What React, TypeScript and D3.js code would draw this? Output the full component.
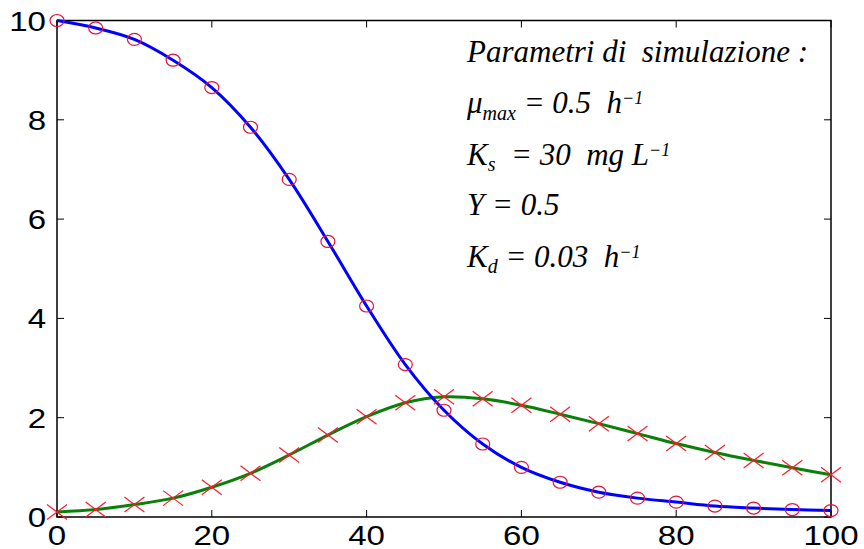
import React from "react";
import * as d3 from "d3";

const timeX: number[] = [0, 5, 10, 15, 20, 25, 30, 35, 40, 45, 50, 55, 60, 65, 70, 75, 80, 85, 90, 95, 100];
const substrate: number[] = [10.0, 9.85, 9.62, 9.2, 8.65, 7.85, 6.8, 5.55, 4.25, 3.07, 2.15, 1.47, 1.0, 0.7, 0.5, 0.38, 0.3, 0.22, 0.18, 0.15, 0.13];
const biomass: number[] = [0.1, 0.15, 0.25, 0.38, 0.6, 0.88, 1.25, 1.65, 2.02, 2.3, 2.42, 2.38, 2.25, 2.07, 1.88, 1.68, 1.48, 1.3, 1.14, 0.99, 0.85];
const xTicks: number[] = [0, 20, 40, 60, 80, 100];
const yTicks: number[] = [0, 2, 4, 6, 8, 10];

const W = 864, H = 549;
const L = 57, R = 831, T = 20.5, B = 517;

export default function App() {
  const x = d3.scaleLinear().domain([0, 100]).range([L, R]);
  const y = d3.scaleLinear().domain([0, 10]).range([B, T]);
  const line = d3.line<[number, number]>().x(d => x(d[0])).y(d => y(d[1])).curve(d3.curveCatmullRom);
  const sPts = timeX.map((t, i) => [t, substrate[i]] as [number, number]);
  const xPts = timeX.map((t, i) => [t, biomass[i]] as [number, number]);
  const tick = 7;
  const font = "Arial, 'Liberation Sans', Helvetica, sans-serif";
  const serif = "'Liberation Serif', 'Times New Roman', serif";
  const tx = 467;
  const big = 31, small = 20, sup = 18;
  const sx = 1.18;
  const pre = { whiteSpace: "pre" as const };
  return (
    <svg width={W} height={H} style={{ position: "absolute", left: 0, top: 0, background: "#fff" }}>
      <rect x={0} y={0} width={W} height={H} fill="#fff" />
      <rect x={L} y={T} width={R - L} height={B - T} fill="none" stroke="#000" strokeWidth={1.5} />
      {xTicks.map(t => (
        <g key={"xt" + t}>
          <line x1={x(t)} x2={x(t)} y1={B} y2={B - tick} stroke="#000" strokeWidth={1} />
          <line x1={x(t)} x2={x(t)} y1={T} y2={T + tick} stroke="#000" strokeWidth={1} />
          <g transform={`translate(${x(t)},545) scale(${sx},1)`}>
            <text x={0} y={0} textAnchor="middle" fontFamily={font} fontSize={28} fill="#000">{t}</text>
          </g>
        </g>
      ))}
      {yTicks.map(t => (
        <g key={"yt" + t}>
          <line x1={L} x2={L + tick} y1={y(t)} y2={y(t)} stroke="#000" strokeWidth={1} />
          <line x1={R} x2={R - tick} y1={y(t)} y2={y(t)} stroke="#000" strokeWidth={1} />
          <g transform={`translate(46,${y(t) + 10}) scale(${sx},1)`}>
            <text x={0} y={0} textAnchor="end" fontFamily={font} fontSize={28} fill="#000">{t}</text>
          </g>
        </g>
      ))}
      <path d={line(xPts) || ""} fill="none" stroke="#0a7f0a" strokeWidth={3} />
      <path d={line(sPts) || ""} fill="none" stroke="#0000ff" strokeWidth={3} />
      {sPts.map((p, i) => (
        <ellipse key={"c" + i} cx={x(p[0])} cy={y(p[1])} rx={7} ry={6} fill="none" stroke="#e0143c" strokeWidth={1.2} />
      ))}
      {xPts.map((p, i) => (
        <g key={"x" + i} stroke="#ff1a2a" strokeWidth={1.2}>
          <line x1={x(p[0]) - 10} x2={x(p[0]) + 10} y1={y(p[1]) - 7.5} y2={y(p[1]) + 7.5} />
          <line x1={x(p[0]) - 10} x2={x(p[0]) + 10} y1={y(p[1]) + 7.5} y2={y(p[1]) - 7.5} />
        </g>
      ))}
      <g fontFamily={serif} fontStyle="italic" fill="#000" fontSize={big}>
        <text x={tx} y={62} style={pre}>Parametri di  simulazione :</text>
        <text x={tx} y={113} style={pre}>
          <tspan>μ</tspan>
          <tspan fontSize={small} dy={7}>max</tspan>
          <tspan dy={-7}> = 0.5  h</tspan>
          <tspan fontSize={sup} dy={-9}>−1</tspan>
        </text>
        <text x={tx} y={165} style={pre}>
          <tspan>K</tspan>
          <tspan fontSize={small} dy={6}>s</tspan>
          <tspan dy={-6}>  = 30  mg L</tspan>
          <tspan fontSize={sup} dy={-9}>−1</tspan>
        </text>
        <text x={tx} y={215} style={pre}>Y = 0.5</text>
        <text x={tx} y={267} style={pre}>
          <tspan>K</tspan>
          <tspan fontSize={small} dy={6}>d</tspan>
          <tspan dy={-6}> = 0.03  h</tspan>
          <tspan fontSize={sup} dy={-9}>−1</tspan>
        </text>
      </g>
    </svg>
  );
}
